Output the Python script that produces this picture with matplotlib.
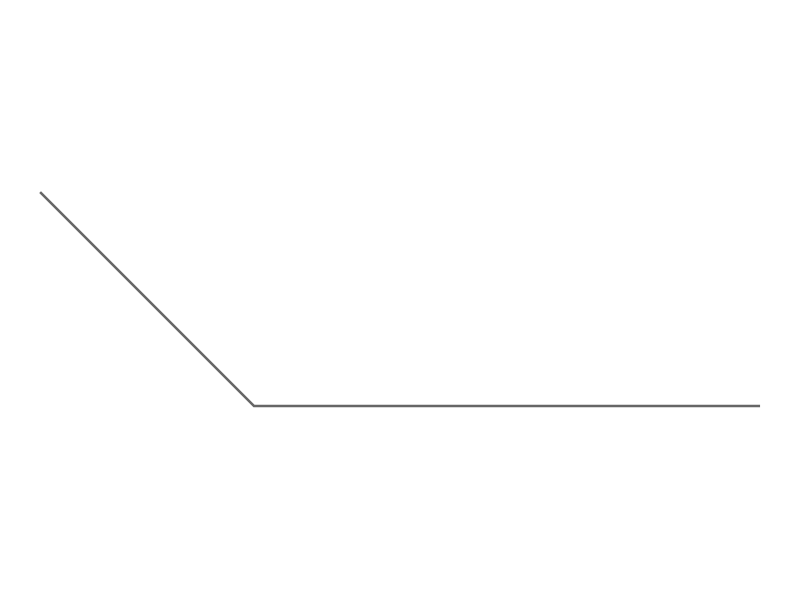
import matplotlib
matplotlib.use("Agg")
import matplotlib.pyplot as plt

x_values = [0, 1, 3.37]
y_values = [1, 0, 0]

fig = plt.figure(figsize=(8, 6), dpi=100)
ax = fig.add_axes([0, 0, 1, 1])
ax.plot(x_values, y_values, color="#666666", linewidth=1.8, solid_joinstyle="miter")
s = 213.0
ax.set_xlim(-41 / s, (800 - 41) / s)
ax.set_ylim(-194 / s, (600 - 194) / s)
ax.axis("off")
fig.savefig("out.png", dpi=100, facecolor="white")
